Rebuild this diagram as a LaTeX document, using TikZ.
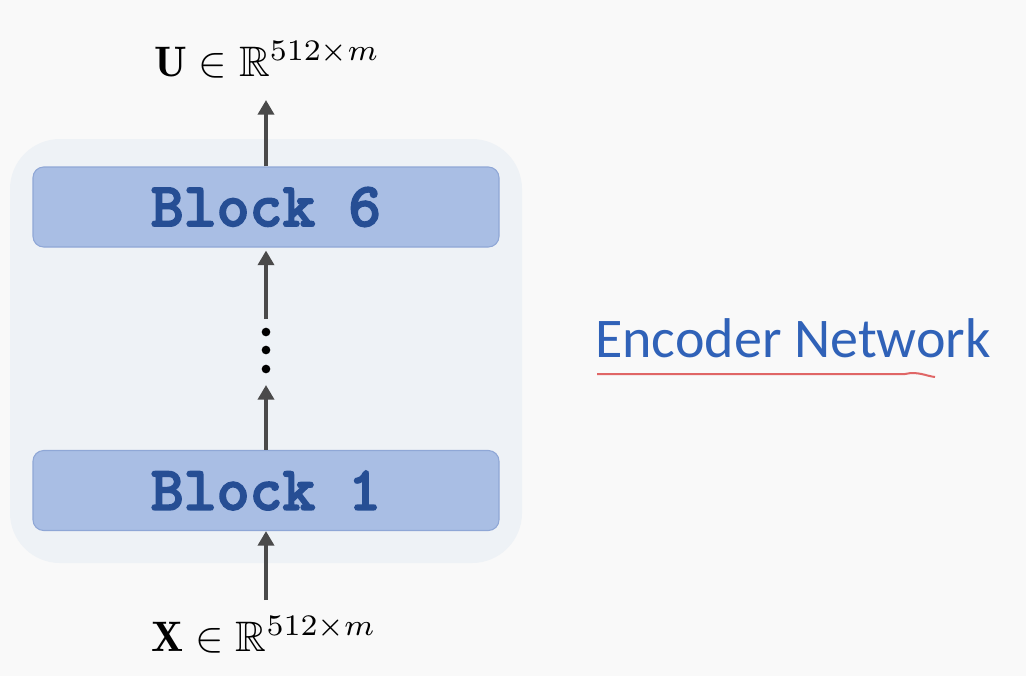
\documentclass[tikz,border=0pt]{standalone}
\usepackage{amssymb}
\usepackage{fontspec}
\newfontfamily\titlefont{Carlito}
\newfontfamily\blockfont{lmmonolt10-bold.otf}[RawFeature={embolden=2.5}]
\usetikzlibrary{arrows.meta}
\definecolor{bgc}{HTML}{F9F9F9}
\definecolor{contc}{HTML}{EEF2F6}
\definecolor{blockc}{HTML}{A9BEE4}
\definecolor{blockd}{HTML}{8FA7D6}
\definecolor{blocktext}{HTML}{264E94}
\definecolor{arrc}{HTML}{4A4A4A}
\definecolor{titlec}{HTML}{3062B8}
\definecolor{linec}{HTML}{E06666}
\begin{document}
\begin{tikzpicture}[x=0.75pt,y=-0.75pt,
 container/.style={fill=contc, draw=none, rounded corners=37.5pt, minimum width=384pt, minimum height=318pt, inner sep=0},
 blockbox/.style={fill=blockc, draw=blockd, line width=0.8pt, rounded corners=8pt, minimum width=349.5pt, minimum height=60pt, inner sep=0, font=\blockfont\fontsize{47}{54}\selectfont, text=blocktext},
 arr/.style={draw=arrc, line width=3pt, -{Triangle[width=12pt,length=11pt]}},
 mathlabel/.style={scale=3.2, inner sep=0},
 dotnode/.style={circle, fill=black, minimum size=6.5pt, inner sep=0}
]
\useasboundingbox (0,0) rectangle (1026,676);
\fill[bgc] (0,0) rectangle (1026,676);
\node[container] (enc) at (266,351) {};
\node[blockbox] (b6) at (266,207) {Block 6};
\node[blockbox] (b1) at (266,490.5) {Block 1};
\node[dotnode] (d1) at (266,332) {};
\node[dotnode] (d2) at (266,350) {};
\node[dotnode] (d3) at (266,369) {};
\coordinate (utip) at (266,100);
\coordinate (xbase) at (266,600);
\coordinate (upbase) at (266,319);
\coordinate (lowtip) at (266,385);
\draw[arr] (b6.north) -- (utip);
\draw[arr] (xbase) -- (b1.south);
\draw[arr] (b1.north) -- (lowtip);
\draw[arr, shorten >=2.25pt] (upbase) -- (b6.south);
\node[mathlabel, anchor=base] (ulab) at (267,76) {$\mathbf{U}\in\mathbb{R}^{512\times m}$};
\node[mathlabel, anchor=base] (xlab) at (264,651) {$\mathbf{X}\in\mathbb{R}^{512\times m}$};
\node[anchor=base west, inner sep=0, font=\titlefont\fontsize{42}{50}\selectfont, text=titlec] (title) at (595,357) {Encoder Network};
\draw[linec, line width=1.5pt] (597,374) -- (905,374) .. controls (918,371) and (926,376) .. (935,377);
\end{tikzpicture}
\end{document}
